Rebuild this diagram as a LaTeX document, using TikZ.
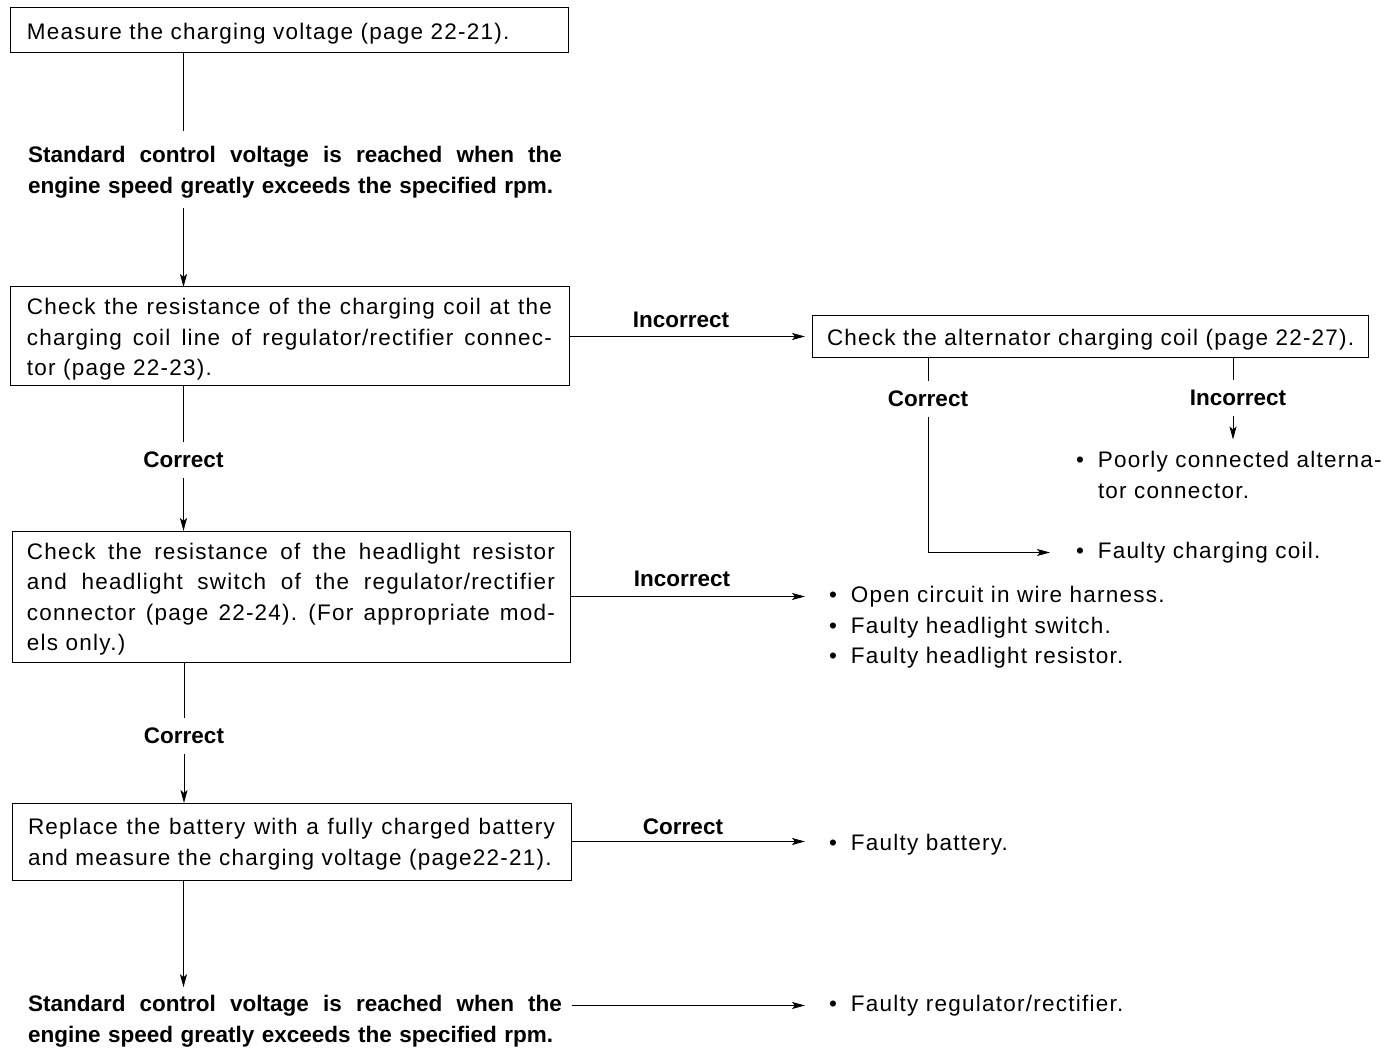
\documentclass[tikz,border=0pt]{standalone}
\usepackage{fontspec}
\setmainfont{Liberation Sans}
\newfontfamily\regsp{Liberation Sans}[LetterSpace=5.5]
\usetikzlibrary{arrows.meta}
\newcommand\jl[2]{\leavevmode\hbox to #1pt{\spaceskip=0.28em plus 1fil\relax #2}}
\newcommand\bul{\makebox[22pt][l]{\textbullet}}
\tikzset{
  every node/.style={inner sep=0pt, outer sep=0pt},
  regtxt/.style={font=\regsp\fontsize{22.5}{30.5}\selectfont},
  boldtxt/.style={font=\bfseries\fontsize{22.5}{30.5}\selectfont},
  box/.style={regtxt, draw, line width=1pt, inner ysep=0pt, align=left,
    execute at begin node={\rule{0pt}{22pt}}},
  vlabel/.style={boldtxt, inner ysep=10pt},
  hlabel/.style={boldtxt},
  result/.style={regtxt, anchor=west, align=left},
  conn/.style={line width=1pt},
  arr/.style={conn, -{Stealth[length=13pt,width=7pt,inset=3pt]}}
}
\begin{document}
\begin{tikzpicture}[x=1pt,y=-1pt]
\fill[white] (0,0) rectangle (1385,1048);
\useasboundingbox (0,0) rectangle (1385,1048);
\coordinate (sp) at (183.5,0);
\coordinate (sr) at (1233,0);

% left column
\node[box, text width=524pt, inner xsep=17pt, minimum height=45pt] (b1) at (289,30.5)
  {\mbox{Measure the charging voltage (page 22-21).}};
\node[boldtxt, text width=534pt, align=left] (t1) at (295,172)
  {\jl{534}{Standard control voltage is reached when the}\\engine speed greatly exceeds the specified rpm.};
\node[box, text width=525pt, inner xsep=17pt, minimum height=99pt] (b2) at (289.5,336.5)
  {\jl{525}{Check the resistance of the charging coil at the}\\
   \jl{525}{charging coil line of regulator/rectifier connec-}\\
   tor (page 22-23).};
\node[vlabel] (lc2) at (183.5,460) {Correct};
\node[box, text width=528pt, inner xsep=15pt, minimum height=131pt] (b4) at (291,596.5)
  {\jl{528}{Check the resistance of the headlight resistor}\\
   \jl{528}{and headlight switch of the regulator/rectifier}\\
   \jl{528}{connector (page 22-24). (For appropriate mod-}\\
   els only.)};
\node[vlabel] (lc4) at (184,736) {Correct};
\node[box, text width=527pt, inner xsep=16pt, minimum height=77pt] (b5) at (291.5,841.5)
  {\jl{527}{Replace the battery with a fully charged battery}\\
   \mbox{and measure the charging voltage (page22-21).}};
\node[boldtxt, text width=534pt, align=left] (t2) at (295,1021)
  {\jl{534}{Standard control voltage is reached when the}\\engine speed greatly exceeds the specified rpm.};

% right side
\node[box, text width=526pt, inner xsep=15pt, minimum height=42pt] (b3) at (1090,337)
  {\mbox{Check the alternator charging coil (page 22-27).}};
\node[hlabel] (li2) at (681,320) {Incorrect};
\node[vlabel] (lc3) at (928,399) {Correct};
\node[vlabel] (li3) at (1238,398) {Incorrect};
\node[result] (r1) at (1076,475) {\bul Poorly connected alterna-\\\hspace*{22pt}tor connector.};
\node[result] (r2) at (1076,552.5) {\bul Faulty charging coil.};
\node[hlabel] (li4) at (682,579) {Incorrect};
\node[result] (r3) at (829,627.5) {\bul Open circuit in wire harness.\\\bul Faulty headlight switch.\\\bul Faulty headlight resistor.};
\node[hlabel] (lc5) at (683,827) {Correct};
\node[result] (r4) at (829,844.5) {\bul Faulty battery.};
\node[result] (r5) at (829,1005.5) {\bul Faulty regulator/rectifier.};

% connectors
\draw[conn, shorten >=15pt] (b1.south -| sp) -- (t1.north -| sp);
\draw[arr, shorten <=10pt] (t1.south -| sp) -- (b2.north -| sp);
\draw[conn] (b2.south -| lc2) -- (lc2.north);
\draw[arr] (lc2.south) -- (b4.north -| lc2);
\draw[conn] (b4.south -| lc4) -- (lc4.north);
\draw[arr] (lc4.south) -- (b5.north -| lc4);
\draw[arr, shorten >=8pt] (b5.south -| sp) -- (t2.north -| sp);

\draw[arr, shorten >=7pt] (b2.east) -- (b2.east -| b3.west);
\draw[arr, shorten >=24pt] (b4.east) -- (b4.east -| r3.west);
\draw[arr, shorten >=24pt] (b5.east) -- (b5.east -| r4.west);
\draw[arr, shorten >=24pt] ([xshift=10pt]t2.east |- r5.west) -- (r5.west);

\draw[conn] (b3.south -| lc3) -- (lc3.north);
\draw[arr, shorten >=26pt] (lc3.south) |- (r2.west);
\draw[conn] (b3.south -| sr) -- (li3.north -| sr);
\draw[arr, shorten >=12pt] (li3.south -| sr) -- (r1.north -| sr);
\end{tikzpicture}
\end{document}
